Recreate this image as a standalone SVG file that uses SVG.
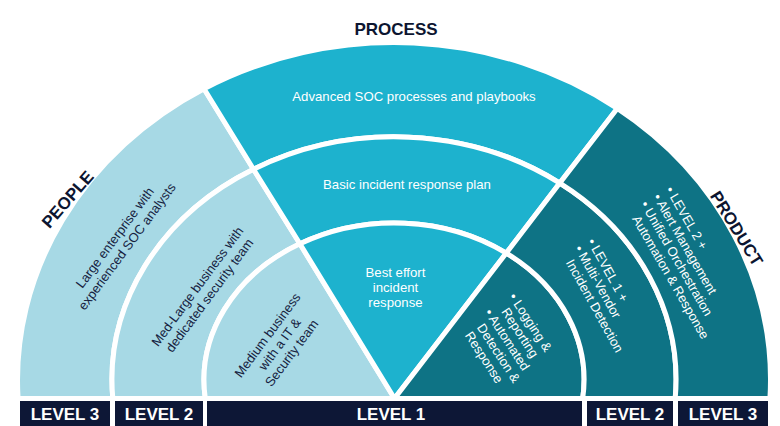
<svg xmlns="http://www.w3.org/2000/svg" width="780" height="426" viewBox="0 0 780 426">
<style>
.seg{stroke:#ffffff;stroke-width:5;stroke-linejoin:round}
.people{fill:#a7d9e5}
.process{fill:#1db2ce}
.product{fill:#0e7385}
.bar{fill:#0d1736}
.t{font-family:"Liberation Sans",Arial,sans-serif}
.title{font-size:17px;font-weight:bold;fill:#0c1530}
.lvl{font-size:17px;font-weight:bold;fill:#ffffff;text-anchor:middle}
.dark{font-size:13px;fill:#16223f;text-anchor:middle}
.wc{font-size:13.2px;fill:#ffffff;text-anchor:middle}
.wl{font-size:13px;fill:#ffffff}
</style>
<rect width="780" height="426" fill="#ffffff"/>

<g id="people-level3">
<path class="seg people" d="M18.07,398.5 A376.5 337.5 0 0 1 204,88.7 L253.5,169.3 A282 243 0 0 0 112.8,398.5 Z"/>
<text class="t dark" transform="translate(120.8,242) rotate(-53.5)"><tspan x="0" y="-2.9">Large enterprise with</tspan><tspan x="0" y="12.1">experienced SOC analysts</tspan></text>
</g>
<g id="people-level2">
<path class="seg people" d="M112.8,398.5 A282 243 0 0 1 253.5,169.3 L299.9,243.8 A190 157 0 0 0 205.3,398.5 Z"/>
<text class="t dark" transform="translate(203.3,290.8) rotate(-53.5)"><tspan x="0" y="-2.9">Med-Large business with</tspan><tspan x="0" y="12.1">dedicated security team</tspan></text>
</g>
<g id="people-level1">
<path class="seg people" d="M205.3,398.5 A190 157 0 0 1 299.9,243.8 L394.5,398.5 Z"/>
<text class="t dark" transform="translate(279.5,344) rotate(-53.5)"><tspan x="0" y="-10.4">Medium business</tspan><tspan x="0" y="4.6">with a IT &amp;</tspan><tspan x="0" y="19.6">Security team</tspan></text>
</g>

<g id="process-level3">
<path class="seg process" d="M253.5,169.3 L204,88.7 A376.5 337.5 0 0 1 617.3,108.4 L559.8,183.1 A282 243 0 0 0 253.5,169.3 Z"/>
<text class="t wc" x="414" y="100.5">Advanced SOC processes and playbooks</text>
</g>
<g id="process-level2">
<path class="seg process" d="M299.9,243.8 L253.5,169.3 A282 243 0 0 1 559.8,183.1 L506.3,253.1 A190 157 0 0 0 299.9,243.8 Z"/>
<text class="t wc" x="407" y="189">Basic incident response plan</text>
</g>
<g id="process-level1">
<path class="seg process" d="M394.5,398.5 L299.9,243.8 A190 157 0 0 1 506.3,253.1 Z"/>
<text class="t wc"><tspan x="395.5" y="277">Best effort</tspan><tspan x="395.5" y="291.8">incident</tspan><tspan x="395.5" y="306.5">response</tspan></text>
</g>

<g id="product-level1">
<path class="seg product" d="M394.5,398.5 L506.3,253.1 A190 157 0 0 1 582.7,398.5 Z"/>
<text class="t wl" transform="translate(508.6,296.8) rotate(57)"><tspan x="0" y="0">• Logging &amp;</tspan><tspan x="8.2" y="14.5">Reporting</tspan><tspan x="0" y="29">• Automated</tspan><tspan x="8.2" y="43.5">Detection &amp;</tspan><tspan x="8.2" y="58">Response</tspan></text>
</g>
<g id="product-level2">
<path class="seg product" d="M506.3,253.1 L559.8,183.1 A282 243 0 0 1 675.2,398.5 L582.7,398.5 A190 157 0 0 0 506.3,253.1 Z"/>
<text class="t wl" transform="translate(587,241.4) rotate(61)"><tspan x="0" y="0">• LEVEL 1 +</tspan><tspan x="0" y="14.5">• Multi-Vendor</tspan><tspan x="8.2" y="29">Incident Detection</tspan></text>
</g>
<g id="product-level3">
<path class="seg product" d="M559.8,183.1 L617.3,108.4 A376.5 337.5 0 0 1 769.93,398.5 L675.2,398.5 A282 243 0 0 0 559.8,183.1 Z"/>
<text class="t wl" transform="translate(665.3,189.8) rotate(60)"><tspan x="0" y="0">• LEVEL 2 +</tspan><tspan x="0" y="14.5">• Alert Management</tspan><tspan x="0" y="29">• Unified Orchestration</tspan><tspan x="8.2" y="43.5">Automation &amp; Response</tspan></text>
</g>

<g id="titles">
<text class="t title" x="396" y="35" text-anchor="middle">PROCESS</text>
<text class="t title" text-anchor="middle" transform="translate(72,203.1) rotate(-49)">PEOPLE</text>
<text class="t title" text-anchor="middle" transform="translate(731.6,231.5) rotate(58.3)">PRODUCT</text>
</g>

<g id="level-bar">
<g id="bar-people-level3"><rect class="bar" x="20" y="401" width="90" height="26"/><text class="t lvl" x="65" y="420">LEVEL 3</text></g>
<g id="bar-people-level2"><rect class="bar" x="115" y="401" width="88" height="26"/><text class="t lvl" x="159" y="420">LEVEL 2</text></g>
<g id="bar-level1"><rect class="bar" x="207" y="401" width="375" height="26"/><text class="t lvl" x="391" y="420">LEVEL 1</text></g>
<g id="bar-product-level2"><rect class="bar" x="587" y="401" width="86" height="26"/><text class="t lvl" x="630" y="420">LEVEL 2</text></g>
<g id="bar-product-level3"><rect class="bar" x="678" y="401" width="90" height="26"/><text class="t lvl" x="723" y="420">LEVEL 3</text></g>
</g>
<g id="connectors"/>
</svg>
